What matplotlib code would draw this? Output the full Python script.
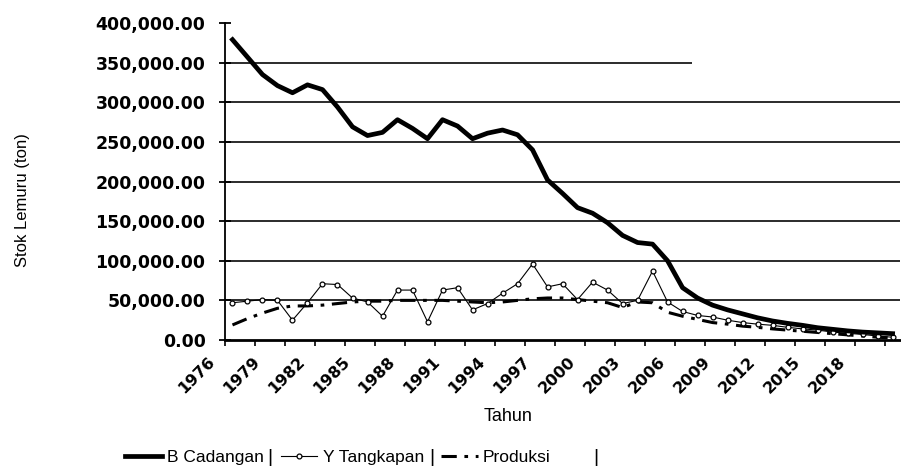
import numpy as np
import matplotlib
matplotlib.use("Agg")
import matplotlib.pyplot as plt
from matplotlib.transforms import ScaledTranslation

# data (ton)
years = list(range(1976, 2021))

b_cadangan = [379000, 357000, 335000, 321000, 312000, 322000, 316000, 294000, 269000, 258000,
              262000, 278000, 267000, 254000, 278000, 270000, 254000, 261000, 265000, 259000,
              240000, 202000, 185000, 167000, 160000, 148000, 132000, 123000, 121000, 100000,
              66000, 53000, 44000, 38000, 33000, 28000, 24000, 21000, 18500, 15500,
              13500, 11500, 10000, 9000, 8000]

y_tangkapan = [47000, 49000, 51000, 50000, 25000, 47000, 71000, 70000, 53000, 48000,
               30000, 63000, 63000, 23000, 63000, 66000, 38000, 46000, 59000, 71000,
               96000, 67000, 71000, 51000, 73000, 63000, 46000, 50000, 87000, 48000,
               36000, 31000, 29000, 25000, 22000, 20000, 18500, 16000, 14000, 12500,
               10000, 8500, 7000, 5000, 3500]

produksi = [19000, 27000, 34000, 40000, 43000, 43000, 44000, 46000, 48000, 49000,
            49000, 50000, 50000, 50000, 50000, 49000, 48000, 47000, 48000, 50000,
            52000, 53000, 53000, 51000, 49000, 47000, 41000, 48000, 47000, 35000,
            30000, 26000, 22000, 20000, 17500, 16000, 14000, 12500, 11000, 9500,
            8000, 6500, 5000, 3500, 2500]

y_ticks = [0, 50000, 100000, 150000, 200000, 250000, 300000, 350000, 400000]

plt.rcParams['font.family'] = ['Liberation Sans', 'DejaVu Sans']

fig = plt.figure(figsize=(9.01, 4.70), dpi=100)
ax = fig.add_axes([0.2497, 0.2766, 0.7493, 0.6744])

x = np.arange(len(years))

# gridlines (the top one is cut short in the original)
for v in y_ticks[1:-2]:
    ax.axhline(v, color='#1a1a1a', lw=1.3, zorder=1)
ax.hlines(y_ticks[-2], -0.5, 30.6, color='#1a1a1a', lw=1.3, zorder=1)

ax.plot(x, b_cadangan, color='black', lw=3.4, label='B Cadangan', zorder=4)
ax.plot(x, y_tangkapan, color='black', lw=0.8, marker='o', ms=3.5, mfc='white',
        mec='black', mew=0.9, label='Y Tangkapan', zorder=3)
ax.plot(x, produksi, color='black', lw=2.2, dashes=(5, 2.5, 1.2, 2.5),
        label='Produksi', zorder=2)

ax.set_xlim(-0.5, len(years) - 0.5)
ax.set_ylim(0, 400000)

ax.spines['top'].set_visible(False)
ax.spines['right'].set_visible(False)
ax.spines['left'].set_linewidth(1.3)
ax.spines['bottom'].set_linewidth(2.0)

ax.set_yticks(y_ticks)
ax.set_yticklabels([f"{v:,.2f}" for v in y_ticks], family='DejaVu Sans',
                   fontweight='bold', fontsize=12.5)
ax.tick_params(axis='y', direction='inout', length=8, width=1.3, pad=10)

label_idx = x[::3]
ax.set_xticks(label_idx)
ax.set_xticklabels([str(years[i]) for i in label_idx], family='DejaVu Sans',
                   fontweight='bold', fontsize=11.5, rotation=45, ha='right',
                   va='center', rotation_mode='anchor')
ax.set_xticks(np.arange(-0.5, len(years), 2), minor=True)
ax.tick_params(axis='x', which='major', length=0, pad=14)
ax.tick_params(axis='x', which='minor', direction='out', length=4, width=1.2)
offset = ScaledTranslation(-0.2, 0, fig.dpi_scale_trans)
for lab in ax.get_xticklabels():
    lab.set_transform(lab.get_transform() + offset)

ax.set_ylabel('Stok Lemuru (ton)', fontsize=12, labelpad=0)
ax.yaxis.set_label_coords(-0.289, 0.44)
ax.set_xlabel('Tahun', fontsize=13)
ax.xaxis.set_label_coords(0.42, -0.215)

fig.legend(loc='center', bbox_to_anchor=(0.375, 0.026), ncol=3, frameon=False,
           fontsize=12.5, handlelength=2.1, handletextpad=0.3, columnspacing=1.0)
for xb in [270, 432, 596]:
    fig.text(xb / 901, 0.026, '|', fontsize=14, ha='center', va='center')

fig.savefig('out.png', dpi=100)
